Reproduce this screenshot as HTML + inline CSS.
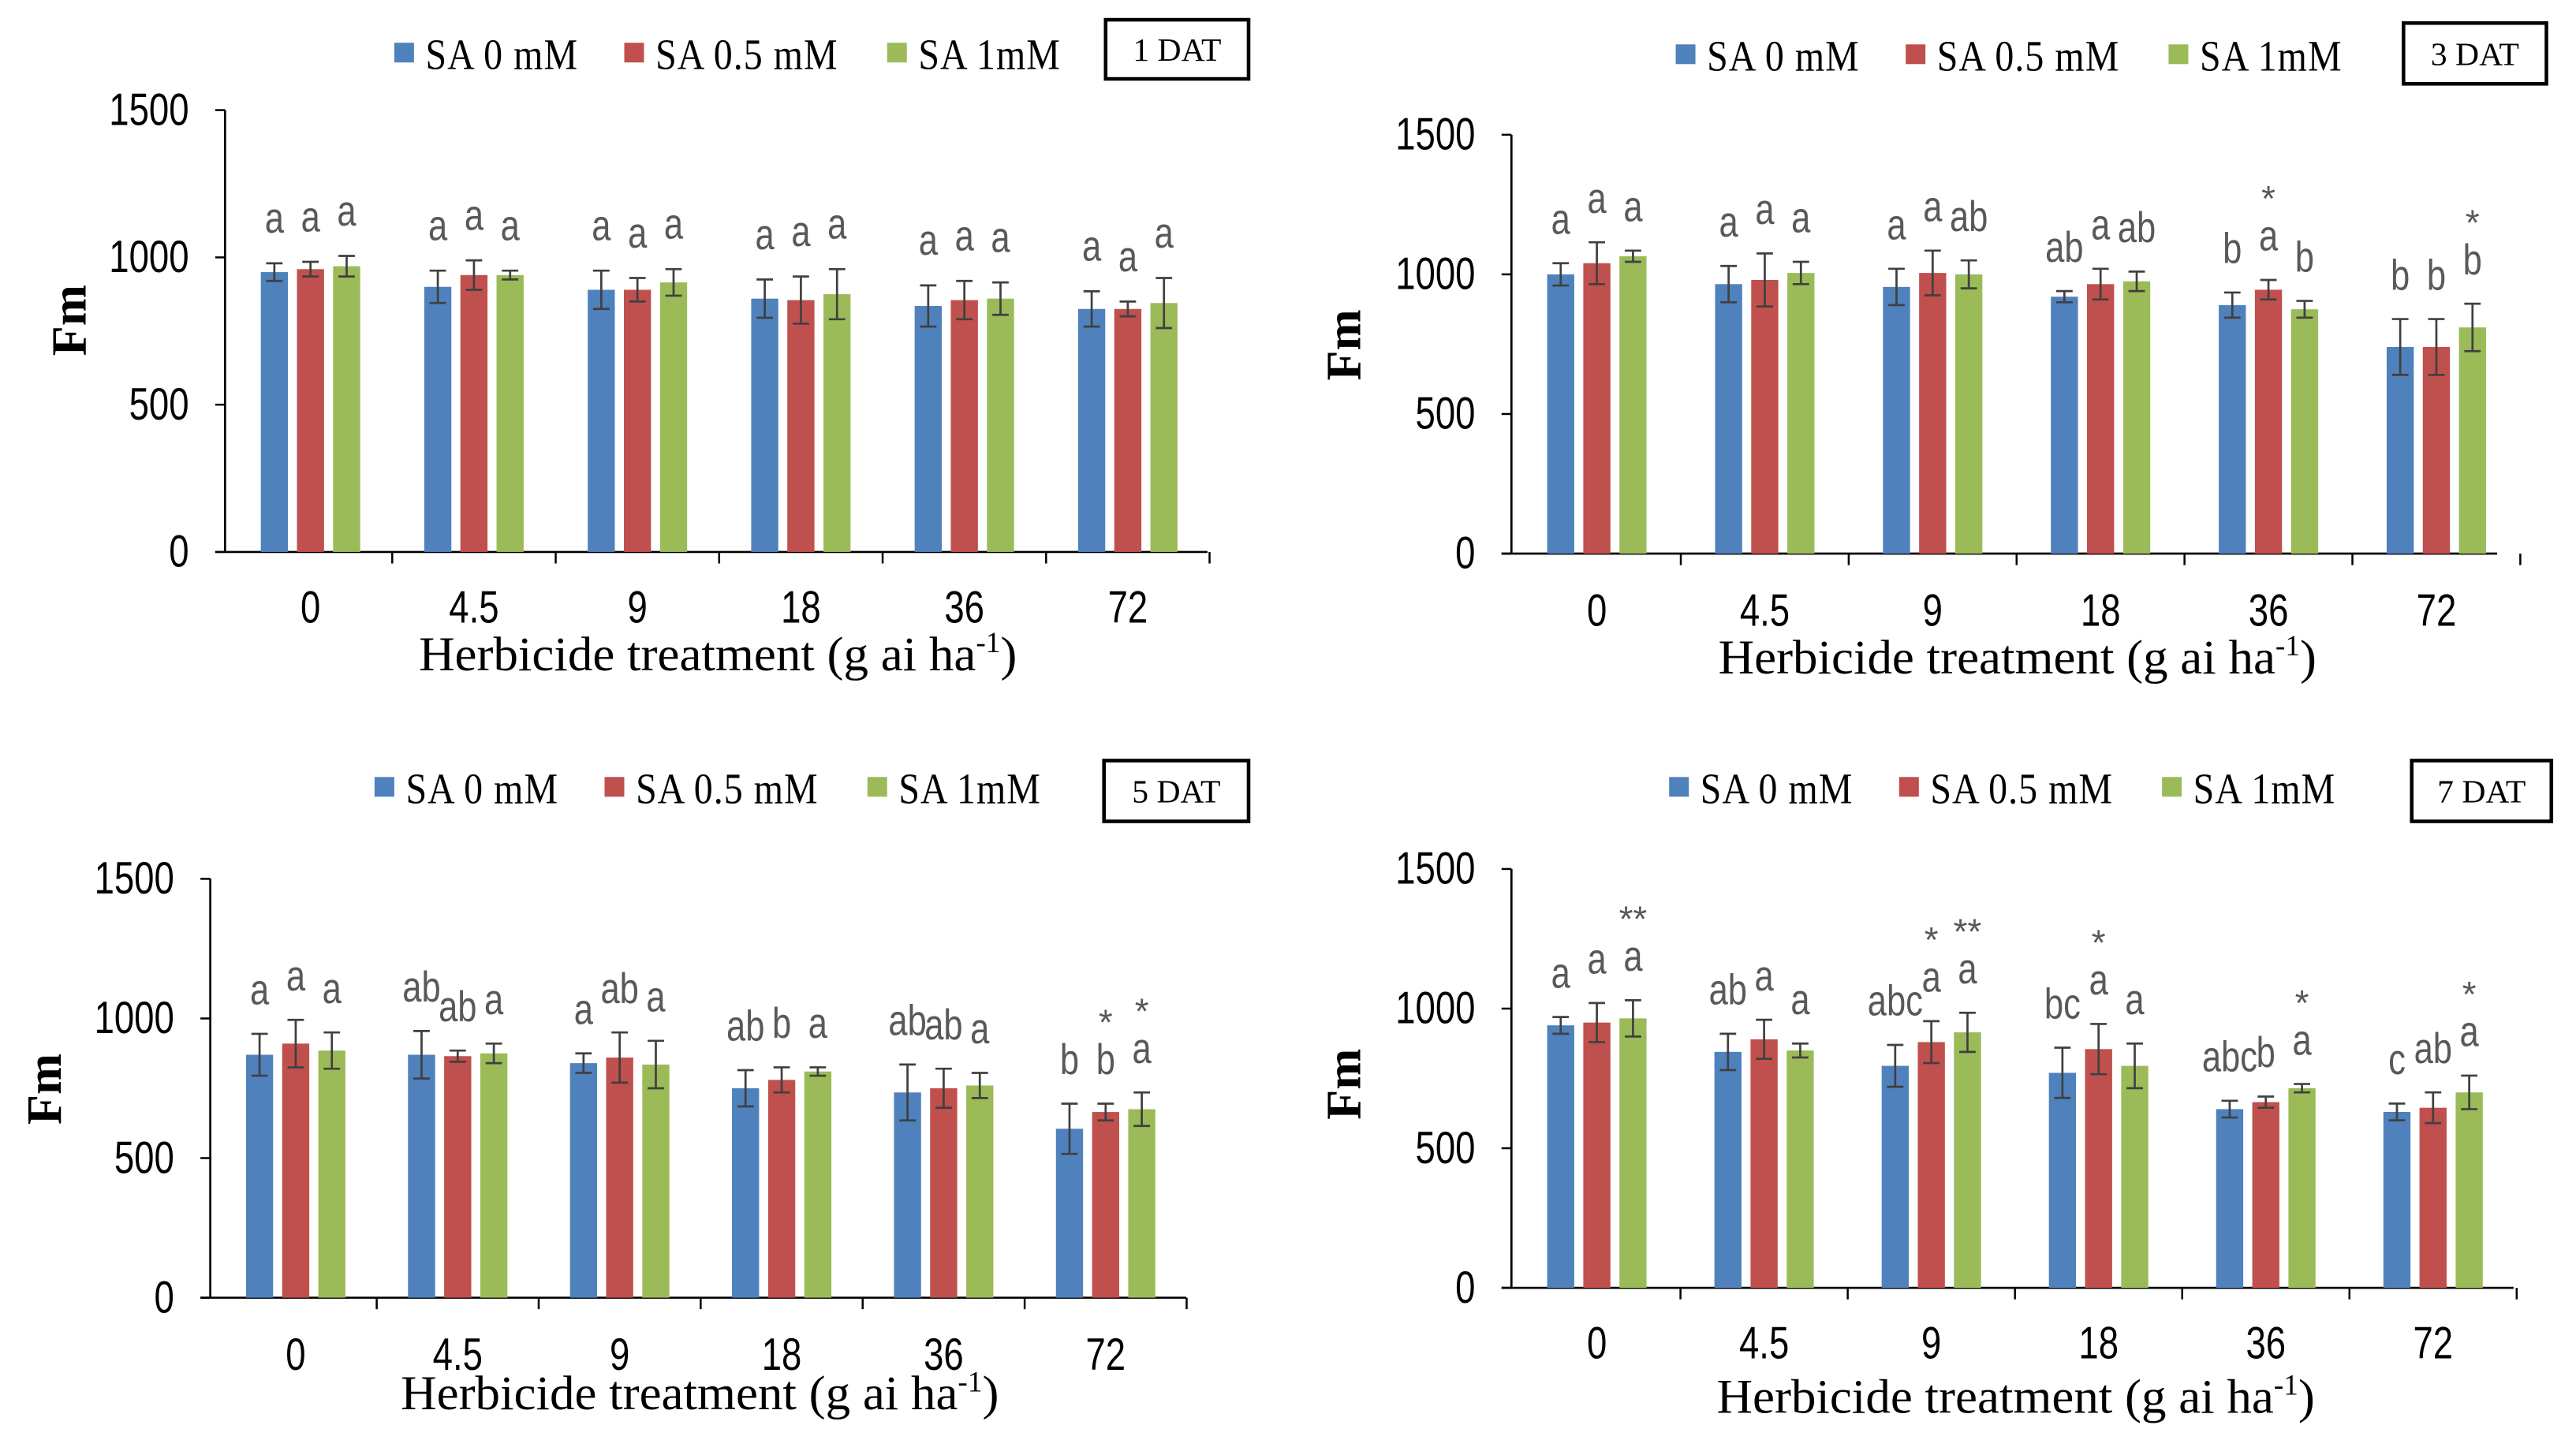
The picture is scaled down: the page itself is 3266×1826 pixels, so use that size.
<!DOCTYPE html>
<html><head><meta charset="utf-8"><style>
html,body{margin:0;padding:0;background:#fff}
svg{display:block}
text{font-family:"Liberation Serif",serif}
.sans{font-family:"Liberation Sans",sans-serif}
</style></head><body>
<svg id="chart" xmlns="http://www.w3.org/2000/svg" width="3266" height="1826" viewBox="0 0 1568 876.6"></svg>
<script>
const categories = ["0","4.5","9","18","36","72"];
const seriesNames = ["SA 0 mM","SA 0.5 mM","SA 1mM"];
const yTicks = [0,500,1000,1500];
// Panel 1 DAT
const p1Values = [[950,900,890,860,835,825],[960,940,890,855,855,825],[970,940,915,875,860,845]];
const p1Err = [[30,55,65,65,70,60],[25,50,40,80,65,25],[35,15,45,85,55,85]];
const p1Letters = [["a","a","a","a","a","a"],["a","a","a","a","a","a"],["a","a","a","a","a","a"]];
const p1Stars = [["","","","","",""],["","","","","",""],["","","","","",""]];
// Panel 3 DAT
const p2Values = [[1000,965,955,920,890,740],[1040,980,1005,965,945,740],[1065,1005,1000,975,875,810]];
const p2Err = [[40,65,65,20,45,100],[75,95,80,55,35,100],[20,40,50,35,30,85]];
const p2Letters = [["a","a","a","ab","b","b"],["a","a","a","a","a","b"],["a","a","ab","ab","b","b"]];
const p2Stars = [["","","","","",""],["","","","","*",""],["","","","","","*"]];
// Panel 5 DAT
const p3Values = [[870,870,840,750,735,605],[910,865,860,780,750,665],[885,875,835,810,760,675]];
const p3Err = [[75,85,35,65,100,90],[85,20,90,45,70,30],[65,35,85,15,45,60]];
const p3Letters = [["a","ab","a","ab","ab","b"],["a","ab","ab","b","ab","b"],["a","a","a","a","a","a"]];
const p3Stars = [["","","","","",""],["","","","","","*"],["","","","","","*"]];
// Panel 7 DAT
const p4Values = [[940,845,795,770,640,630],[950,890,880,855,665,645],[965,850,915,795,715,700]];
const p4Err = [[30,65,75,90,30,30],[70,70,75,90,20,55],[65,25,70,80,15,60]];
const p4Letters = [["a","ab","abc","bc","abc","c"],["a","a","a","a","b","ab"],["a","a","a","a","a","a"]];
const p4Stars = [["","","","","",""],["","","*","*","",""],["**","","**","","*","*"]];

const colors = ["#4f81bd","#c0504d","#9bbb59"];
const panels = [
 {name:"1-dat",v:p1Values,e:p1Err,l:p1Letters,s:p1Stars,x0:137,x1:735,c0:189,step:99.5,y0:336,yTop:67,leg:{y:33,x:240},box:[673,12,87,36,"1 DAT"],tickY:379,titleY:408,titleX:437,fm:[42,195]},
 {name:"3-dat",v:p2Values,e:p2Err,l:p2Letters,s:p2Stars,x0:920,x1:1520,c0:972,step:102.2,y0:337,yTop:82,leg:{y:34,x:1020},box:[1463,14,87,37,"3 DAT"],tickY:381,titleY:410,titleX:1228,fm:[818,210]},
 {name:"5-dat",v:p3Values,e:p3Err,l:p3Letters,s:p3Stars,x0:128,x1:722,c0:180,step:98.6,y0:790,yTop:535,leg:{y:480,x:228},box:[672,463,88,37,"5 DAT"],tickY:834,titleY:858,titleX:426,fm:[27,663]},
 {name:"7-dat",v:p4Values,e:p4Err,l:p4Letters,s:p4Stars,x0:920,x1:1530,c0:972,step:101.8,y0:784,yTop:529,leg:{y:480,x:1016},box:[1468,463,85,37,"7 DAT"],tickY:827,titleY:860,titleX:1227,fm:[818,660]}
];
const NS="http://www.w3.org/2000/svg";
const svg=document.getElementById('chart');
function mk(tag,attrs,parent,txt){const el=document.createElementNS(NS,tag);for(const k in attrs)el.setAttribute(k,attrs[k]);if(txt!==undefined)el.textContent=txt;(parent||svg).appendChild(el);return el;}
panels.forEach(p=>{
 const g=mk('g',{});
 
 
 const yS=v=>p.y0-(v/1500)*(p.y0-p.yTop);
 const xC=i=>p.c0+i*p.step;
 const bw=16.5, gap=22;
 const ya=mk('line',{x1:p.x0,y1:p.yTop,x2:p.x0,y2:p.y0,stroke:'#000','stroke-width':1.3},g);
 
 
 const xa=mk('line',{x1:p.x0-6,y1:p.y0,x2:p.x1,y2:p.y0,stroke:'#000','stroke-width':1.3},g);
 
 
 yTicks.forEach(t=>{
  mk('line',{x1:p.x0-6,y1:yS(t),x2:p.x0,y2:yS(t),stroke:'#000','stroke-width':1.2},g);
  const tl=mk('text',{x:0,y:0,'text-anchor':'end','font-size':23,class:'sans',transform:`translate(${p.x0-22} ${yS(t)+9}) scale(0.95 1.2)`},g,String(t));
  
  
 });
 for(let i=1;i<=categories.length;i++){
  const x=p.c0+(i-0.5)*p.step;
  mk('line',{x1:x,y1:p.y0,x2:x,y2:p.y0+7,stroke:'#000','stroke-width':1.2},g);
 }
 categories.forEach((c,i)=>{
  const tl=mk('text',{x:0,y:0,'text-anchor':'middle','font-size':23,class:'sans',transform:`translate(${xC(i)} ${p.tickY}) scale(0.95 1.2)`},g,c);
  
  
  for(let s=0;s<3;s++){
   const cx=xC(i)+(s-1)*gap, v=p.v[s][i], e=p.e[s][i];
   const r=mk('rect',{x:cx-bw/2,y:yS(v),width:bw,height:p.y0-yS(v),fill:colors[s]},g);
   
   
   const eb=mk('path',{d:`M${cx},${yS(v+e)}V${yS(v-e)}M${cx-5},${yS(v+e)}H${cx+5}M${cx-5},${yS(v-e)}H${cx+5}`,stroke:'#404040','stroke-width':1.3,fill:'none'},g);
   
   
   const ly=yS(v+e+70)-6;
   const lt=mk('text',{x:0,y:0,'text-anchor':'middle','font-size':22,fill:'#595959',class:'sans',transform:`translate(${cx} ${ly}) scale(0.95 1.2)`},g,p.l[s][i]);
   
   
   if(p.s[s][i]){
    const st=mk('text',{x:cx,y:ly-24,'text-anchor':'middle','font-size':22,fill:'#595959',class:'sans'},g,p.s[s][i]);
    
    
   }
  }
 });
 let lx=p.leg.x;
 seriesNames.forEach((n,s)=>{
  const sw=mk('rect',{x:lx,y:p.leg.y-7,width:12,height:12,fill:colors[s]},g);
  
  
  const t=mk('text',{x:0,y:0,'font-size':23,'letter-spacing':'0.5',transform:`translate(${lx+19} ${p.leg.y+9}) scale(1 1.15)`},g,n);
  
  
  lx+= [140,160,0][s];
 });
 const [bx,by,bwid,bh,bt]=p.box;
 const br=mk('rect',{x:bx,y:by,width:bwid,height:bh,fill:'none',stroke:'#000','stroke-width':2.2},g);
 
 
 const btx=mk('text',{x:bx+bwid/2,y:by+bh/2+7,'text-anchor':'middle','font-size':20},g,bt);
 
 
 const xt=mk('text',{x:0,y:0,'text-anchor':'middle','font-size':27,transform:`translate(${p.titleX} ${p.titleY}) scale(1.12 1.1)`},g);
 
 
 xt.appendChild(document.createTextNode('Herbicide treatment (g ai ha'));
 const sup=document.createElementNS(NS,'tspan');sup.setAttribute('dy','-10');sup.setAttribute('font-size','16');sup.textContent='-1';xt.appendChild(sup);
 const cl=document.createElementNS(NS,'tspan');cl.setAttribute('dy','10');cl.textContent=')';xt.appendChild(cl);
 const fm=mk('text',{x:p.fm[0],y:p.fm[1],'text-anchor':'middle','font-size':30,'font-weight':'bold',transform:`rotate(-90 ${p.fm[0]} ${p.fm[1]})`,dy:10},g,'Fm');
 
 
});
</script>
</body></html>
